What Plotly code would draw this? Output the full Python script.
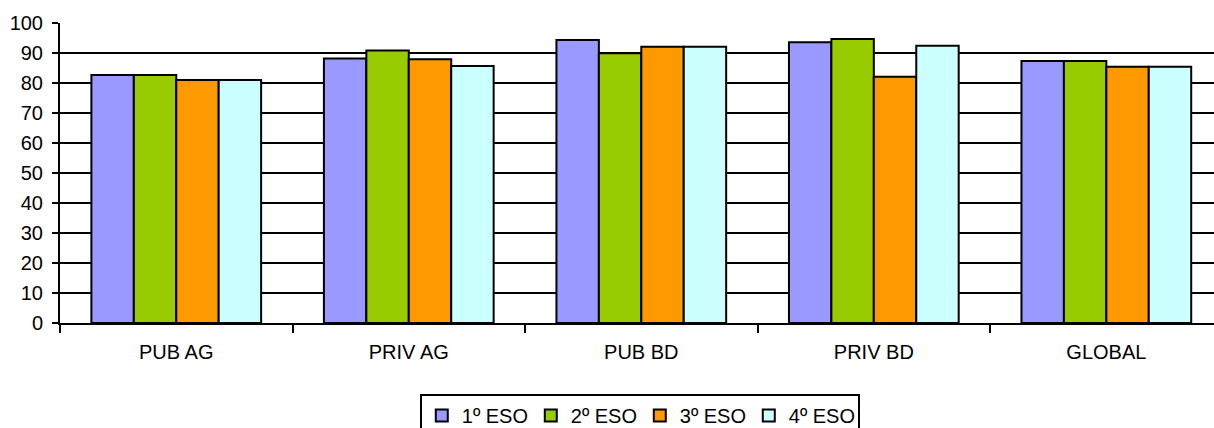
import plotly.graph_objects as go

CATEGORIES = ['PUB AG', 'PRIV AG', 'PUB BD', 'PRIV BD', 'GLOBAL']
SERIES = ['1º ESO', '2º ESO', '3º ESO', '4º ESO']
ESO_1 = [82.7, 88.2, 94.3, 93.6, 87.3]
ESO_2 = [82.7, 90.8, 89.9, 94.7, 87.3]
ESO_3 = [81.0, 87.9, 92.1, 82.1, 85.4]
ESO_4 = [81.0, 85.7, 92.1, 92.4, 85.4]

COLOURS = ['#9999FF', '#99CC00', '#FF9900', '#CCFFFF']
FONT = 'Liberation Sans, Arial, sans-serif'

fig = go.Figure()
for name, values, colour in zip(SERIES, [ESO_1, ESO_2, ESO_3, ESO_4], COLOURS):
    fig.add_trace(go.Bar(x=CATEGORIES, y=values, name=name,
                         marker={'color': colour, 'line': {'color': 'black', 'width': 2}}))

fig.update_layout(
    width=1214, height=428,
    margin={'l': 60, 'r': 0, 't': 23, 'b': 105, 'autoexpand': False},
    plot_bgcolor='white', paper_bgcolor='white',
    barmode='group', bargap=0.27, bargroupgap=0,
    font={'family': FONT, 'size': 20, 'color': 'black'},
    legend={'orientation': 'h', 'x': 0.527, 'xref': 'container', 'xanchor': 'center',
            'y': 1 - 394 / 428, 'yref': 'container', 'yanchor': 'top',
            'bordercolor': 'black', 'borderwidth': 2, 'font': {'size': 20},
            'itemwidth': 30, 'entrywidth': 64, 'tracegroupgap': 0},
)
fig.update_xaxes(range=[-0.5, 4.463], showline=True, linecolor='black', linewidth=2,
                 ticks='outside', tickson='boundaries', ticklen=8, tickcolor='black',
                 tickwidth=2, showgrid=False, ticklabelstandoff=10)
fig.update_yaxes(range=[0, 100], dtick=10, showline=True, linecolor='black', linewidth=2,
                 ticks='outside', ticklen=6, tickcolor='black', tickwidth=2,
                 showgrid=True, gridcolor='black', gridwidth=2, zeroline=False,
                 ticklabelstandoff=5)

# page body has a default 8px margin, drop it so the chart sits at the window corner
fig.write_html('out.html', config={'displayModeBar': False},
               post_script="document.body.style.margin='0';")
